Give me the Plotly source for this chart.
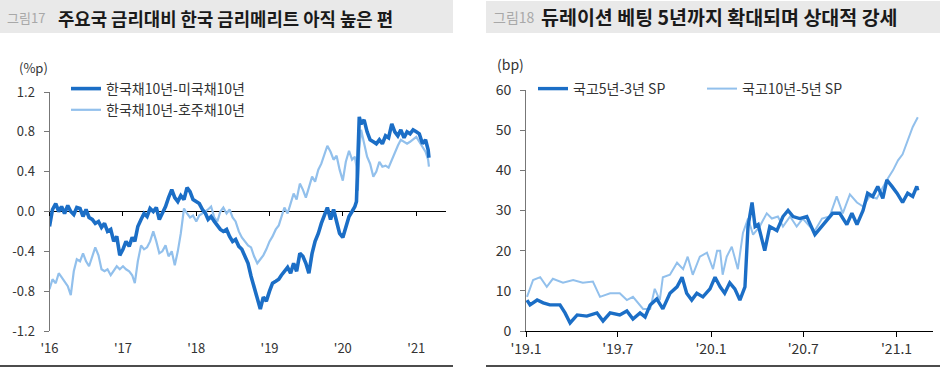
import plotly.graph_objects as go

W, H = 942, 372
FONT = "Noto Sans CJK KR"

# ---------------- Left chart data (%p) ----------------
LEFT_DATES = [
    "2016-01-01","2016-01-16","2016-02-01","2016-02-16","2016-03-01","2016-03-16","2016-04-01","2016-04-16",
    "2016-05-01","2016-05-16","2016-06-01","2016-06-16","2016-07-01","2016-07-16","2016-08-01","2016-08-16",
    "2016-09-01","2016-09-16","2016-10-01","2016-10-16","2016-11-01","2016-11-16","2016-12-01","2016-12-16",
    "2017-01-01","2017-01-16","2017-02-01","2017-02-16","2017-03-01","2017-03-16","2017-04-01","2017-04-16",
    "2017-05-01","2017-05-16","2017-06-01","2017-06-16","2017-07-01","2017-07-16","2017-08-01","2017-08-16",
    "2017-09-01","2017-09-16","2017-10-01","2017-10-16","2017-11-01","2017-11-16","2017-12-01","2017-12-16",
    "2018-01-01","2018-01-16","2018-02-01","2018-02-16","2018-03-01","2018-03-16","2018-04-01","2018-04-16",
    "2018-05-01","2018-05-16","2018-06-01","2018-06-16","2018-07-01","2018-07-16","2018-08-01","2018-08-16",
    "2018-09-01","2018-09-16","2018-10-01","2018-10-16","2018-11-01","2018-11-16","2018-12-01","2018-12-16",
    "2019-01-01","2019-01-16","2019-02-01","2019-02-16","2019-03-01","2019-03-16","2019-04-01","2019-04-16",
    "2019-05-01","2019-05-16","2019-06-01","2019-06-16","2019-07-01","2019-07-16","2019-08-01","2019-08-16",
    "2019-09-01","2019-09-16","2019-10-01","2019-10-16","2019-11-01","2019-11-16","2019-12-01","2019-12-16",
    "2020-01-01","2020-01-16","2020-02-01","2020-02-16","2020-03-01","2020-03-09","2020-03-16","2020-03-23",
    "2020-04-01","2020-04-16","2020-05-01","2020-05-16","2020-06-01","2020-06-16","2020-07-01","2020-07-16",
    "2020-08-01","2020-08-16","2020-09-01","2020-09-16","2020-10-01","2020-10-16","2020-11-01","2020-11-16",
    "2020-12-01","2020-12-16","2021-01-01","2021-01-16","2021-02-01","2021-02-16","2021-03-01","2021-03-05",
]
KR_US = [
    -0.15, 0.02, 0.08, 0.00, 0.05, -0.02, 0.06, 0.00, -0.03, 0.04, 0.03, -0.05,
    0.02, -0.06, -0.08, -0.12, -0.10, -0.16, -0.12, -0.20, -0.18, -0.30, -0.25, -0.44,
    -0.38, -0.30, -0.35, -0.26, -0.30, -0.15, -0.08, -0.02, -0.05, 0.03, 0.00, 0.04,
    -0.08, -0.02, 0.05, 0.14, 0.22, 0.14, 0.10, 0.16, 0.12, 0.24, 0.20, 0.12,
    0.10, 0.08, 0.02, -0.02, -0.08, -0.05, -0.10, -0.14, -0.18, -0.20, -0.18, -0.25,
    -0.30, -0.28, -0.35, -0.38, -0.45, -0.52, -0.65, -0.75, -0.88, -0.98, -0.86, -0.90,
    -0.80, -0.72, -0.70, -0.68, -0.64, -0.60, -0.56, -0.62, -0.52, -0.60, -0.42, -0.45,
    -0.52, -0.62, -0.42, -0.30, -0.22, -0.12, -0.05, 0.04, -0.08, 0.02, -0.10, -0.22,
    -0.26, -0.15, -0.05, 0.00, 0.05, 0.10, 0.55, 0.95,
    0.88, 0.92, 0.80, 0.72, 0.70, 0.68, 0.72, 0.68, 0.76, 0.74, 0.88, 0.80,
    0.76, 0.82, 0.74, 0.80, 0.78, 0.82, 0.80, 0.78, 0.68, 0.72, 0.62, 0.54,
]
KR_AU = [
    -0.78, -0.68, -0.72, -0.62, -0.66, -0.70, -0.75, -0.84, -0.60, -0.48, -0.50, -0.42,
    -0.50, -0.55, -0.45, -0.36, -0.44, -0.58, -0.60, -0.58, -0.64, -0.60, -0.55, -0.58,
    -0.55, -0.58, -0.60, -0.64, -0.72, -0.50, -0.34, -0.38, -0.36, -0.30, -0.20, -0.30,
    -0.42, -0.40, -0.34, -0.45, -0.40, -0.54, -0.40, -0.22, 0.03, -0.02, -0.06, -0.04,
    -0.10, -0.04, -0.02, 0.00, 0.02, 0.05, -0.06, -0.10, 0.00, 0.04, -0.02, 0.02,
    -0.06, -0.10, -0.20, -0.26, -0.30, -0.34, -0.36, -0.45, -0.52, -0.48, -0.44, -0.38,
    -0.30, -0.25, -0.18, -0.14, -0.05, 0.04, -0.02, 0.08, 0.18, 0.12, 0.28, 0.22,
    0.14, 0.24, 0.35, 0.30, 0.42, 0.48, 0.58, 0.66, 0.60, 0.52, 0.56, 0.42,
    0.31, 0.50, 0.61, 0.52, 0.55, 0.45, 0.21, 0.62,
    0.82, 0.70, 0.55, 0.48, 0.35, 0.40, 0.50, 0.45, 0.46, 0.44, 0.52, 0.60,
    0.66, 0.72, 0.70, 0.68, 0.70, 0.72, 0.75, 0.70, 0.65, 0.60, 0.52, 0.45,
]
LEFT_XTICKS = ["2016-01-01", "2017-01-01", "2018-01-01", "2019-01-01", "2020-01-01", "2021-01-01"]
LEFT_XTEXT = ["'16", "'17", "'18", "'19", "'20", "'21"]
LEFT_YTICKS = [-1.2, -0.8, -0.4, 0.0, 0.4, 0.8, 1.2]
LEFT_YTEXT = ["-1.2", "-0.8", "-0.4", "0.0", "0.4", "0.8", "1.2"]

# ---------------- Right chart data (bp) ----------------
SP53_DATES = [
    "2019-01-03","2019-01-09","2019-01-23","2019-02-04","2019-02-17","2019-03-09","2019-03-19","2019-03-29",
    "2019-04-12","2019-05-01","2019-05-21","2019-06-02","2019-06-16","2019-07-05","2019-07-19","2019-07-31",
    "2019-08-14","2019-08-24","2019-09-03","2019-09-16","2019-09-28","2019-10-12","2019-10-26","2019-11-05",
    "2019-11-14","2019-11-24","2019-12-04","2019-12-16","2019-12-30","2020-01-09","2020-01-19","2020-01-28",
    "2020-02-07","2020-02-17","2020-02-27","2020-03-08","2020-03-14","2020-03-22","2020-03-28","2020-04-03",
    "2020-04-16","2020-04-26","2020-05-10","2020-05-22","2020-06-01","2020-06-11","2020-06-24","2020-07-08",
    "2020-07-24","2020-08-09","2020-08-28","2020-09-11","2020-09-25","2020-10-05","2020-10-15","2020-10-27",
    "2020-11-05","2020-11-15","2020-11-25","2020-12-05","2020-12-13","2020-12-23","2021-01-02","2021-01-13",
    "2021-01-23","2021-02-02","2021-02-10","2021-02-12",
]
SP53 = [
    7.7, 6.5, 7.7, 7.0, 6.5, 6.5, 4.5, 2.0,
    4.0, 3.7, 4.5, 2.5, 4.5, 4.0, 5.0, 3.0,
    4.5, 3.5, 6.5, 8.0, 5.5, 9.4, 11.0, 13.4,
    9.4, 7.7, 9.4, 8.5, 10.5, 13.4, 11.0, 9.4,
    12.0, 10.5, 7.7, 11.0, 26.0, 32.0, 26.0, 26.5,
    20.0, 26.0, 25.0, 28.5, 30.0, 28.5, 28.0, 28.5,
    24.0, 26.5, 29.3, 29.3, 26.5, 29.3, 26.5, 30.0,
    34.3, 33.5, 36.0, 33.0, 37.6, 36.0, 34.3, 32.0,
    34.3, 33.5, 36.0, 35.0,
]
SP105_DATES = [
    "2019-01-03","2019-01-15","2019-01-29","2019-02-11","2019-02-23","2019-03-15","2019-04-04","2019-04-23",
    "2019-05-13","2019-05-27","2019-06-16","2019-07-05","2019-07-19","2019-07-31","2019-08-20","2019-09-03",
    "2019-09-12","2019-09-22","2019-09-28","2019-10-12","2019-10-26","2019-11-07","2019-11-16","2019-11-26",
    "2019-12-10","2019-12-24","2020-01-05","2020-01-13","2020-01-19","2020-01-24","2020-02-01","2020-02-11",
    "2020-02-23","2020-03-04","2020-03-14","2020-03-24","2020-04-06","2020-04-20","2020-04-30","2020-05-12",
    "2020-05-22","2020-06-05","2020-06-18","2020-06-30","2020-07-14","2020-07-24","2020-08-07","2020-08-22",
    "2020-09-05","2020-09-17","2020-10-01","2020-10-15","2020-10-27","2020-11-09","2020-11-23","2020-12-03",
    "2020-12-13","2020-12-25","2021-01-04","2021-01-13","2021-01-23","2021-02-02","2021-02-12",
]
SP105 = [
    8.5, 12.7, 13.4, 11.0, 13.0, 12.0, 12.7, 12.0,
    12.3, 8.5, 9.4, 9.4, 7.7, 8.5, 5.5, 5.5,
    10.5, 7.7, 13.4, 14.0, 17.0, 15.4, 18.5, 14.0,
    18.5, 19.5, 15.4, 20.0, 20.0, 14.0, 18.5, 21.0,
    15.4, 24.4, 28.0, 24.0, 26.0, 29.3, 28.0, 28.5,
    26.0, 28.5, 26.0, 28.0, 26.0, 25.0, 28.0, 28.5,
    33.5, 29.3, 34.0, 32.0, 31.0, 33.5, 33.0, 35.5,
    37.6, 40.0, 42.5, 44.0, 47.5, 50.8, 53.2,
]
RIGHT_XTICKS = ["2019-01-01", "2019-07-01", "2020-01-01", "2020-07-01", "2021-01-01"]
RIGHT_XTEXT = ["'19.1", "'19.7", "'20.1", "'20.7", "'21.1"]

DARK = "#1b6ec6"
LIGHT = "#92c0ec"


def px(x):
    return x / W


def py(y):
    return 1 - y / H


fig = go.Figure()
fig.add_trace(go.Scatter(x=LEFT_DATES, y=KR_AU, mode="lines", name="한국채10년-호주채10년",
                         line=dict(color=LIGHT, width=2.2), xaxis="x", yaxis="y", legend="legend",
                         legendrank=2))
fig.add_trace(go.Scatter(x=LEFT_DATES, y=KR_US, mode="lines", name="한국채10년-미국채10년",
                         line=dict(color=DARK, width=3.6), xaxis="x", yaxis="y", legend="legend",
                         legendrank=1))
fig.add_trace(go.Scatter(x=SP105_DATES, y=SP105, mode="lines", name="국고10년-5년 SP",
                         line=dict(color=LIGHT, width=2), xaxis="x2", yaxis="y2", legend="legend2",
                         legendrank=2))
fig.add_trace(go.Scatter(x=SP53_DATES, y=SP53, mode="lines", name="국고5년-3년 SP",
                         line=dict(color=DARK, width=3.4), xaxis="x2", yaxis="y2", legend="legend2",
                         legendrank=1))
# invisible trace so the zero-line tick axis is drawn
fig.add_trace(go.Scatter(x=LEFT_XTICKS[:1], y=[0], mode="lines", showlegend=False,
                         hoverinfo="skip", line=dict(width=0), xaxis="x3", yaxis="y"))

tickfont_l = dict(family=FONT, size=13, color="#333")
tickfont_r = dict(family=FONT, size=14, color="#333")
LEFT_RANGE = ["2016-01-01", "2021-05-29"]

fig.update_layout(
    width=W, height=H,
    margin=dict(l=0, r=0, t=0, b=0, autoexpand=False),
    paper_bgcolor="white", plot_bgcolor="rgba(0,0,0,0)",
    font=dict(family=FONT, color="#333"),
    xaxis=dict(domain=[px(49.5), px(446)], anchor="y", type="date", range=LEFT_RANGE,
               tickvals=LEFT_XTICKS, ticktext=LEFT_XTEXT, showline=False, ticks="",
               showgrid=False, zeroline=False, tickfont=tickfont_l, ticklabelstandoff=8),
    xaxis3=dict(overlaying="x", anchor="free", position=py(211), type="date", range=LEFT_RANGE,
                tickvals=LEFT_XTICKS, showticklabels=False, ticks="outside", ticklen=4,
                tickcolor="#000", tickwidth=1, showline=False, showgrid=False, zeroline=False),
    yaxis=dict(domain=[py(331), py(92)], anchor="x", range=[-1.2, 1.2], tickvals=LEFT_YTICKS,
               ticktext=LEFT_YTEXT, showline=True, linecolor="#777", linewidth=1, ticks="outside",
               ticklen=5, tickcolor="#777", showgrid=False, zeroline=True, zerolinecolor="#000",
               zerolinewidth=1.3, tickfont=tickfont_l, ticklabelstandoff=6),
    xaxis2=dict(domain=[px(526), px(933)], anchor="y2", type="date",
                range=["2019-01-01", "2021-03-14"], tickvals=RIGHT_XTICKS, ticktext=RIGHT_XTEXT,
                showline=True, linecolor="#000", linewidth=1, ticks="outside", ticklen=5,
                tickcolor="#000", showgrid=False, zeroline=False, tickfont=tickfont_r),
    yaxis2=dict(domain=[py(331), py(90)], anchor="x2", range=[0, 60], dtick=10,
                showline=True, linecolor="#777", linewidth=1, ticks="outside", ticklen=5,
                tickcolor="#777", showgrid=False, zeroline=False, tickfont=tickfont_r,
                ticklabelstandoff=6),
    legend=dict(x=px(66), y=py(73), xanchor="left", yanchor="top", orientation="v",
                bgcolor="rgba(0,0,0,0)", font=dict(family=FONT, size=14, color="#333"),
                tracegroupgap=0, traceorder="normal"),
    legend2=dict(x=px(533), y=py(73), xanchor="left", yanchor="top", orientation="h",
                 bgcolor="rgba(0,0,0,0)", font=dict(family=FONT, size=14, color="#333"),
                 entrywidth=124, entrywidthmode="pixels", traceorder="normal"),
    showlegend=True,
)

shapes = [
    dict(type="rect", xref="paper", yref="paper", x0=0, x1=px(453), y0=py(33), y1=py(0),
         fillcolor="#e9e9e9", line=dict(width=0), layer="below"),
    dict(type="rect", xref="paper", yref="paper", x0=px(486), x1=px(940), y0=py(33), y1=py(1),
         fillcolor="#e9e9e9", line=dict(width=0), layer="below"),
    dict(type="line", xref="paper", yref="paper", x0=0, x1=px(453), y0=py(366), y1=py(366),
         line=dict(color="#111", width=1.5)),
    dict(type="line", xref="paper", yref="paper", x0=px(486), x1=px(940), y0=py(366), y1=py(366),
         line=dict(color="#111", width=1.5)),
]
fig.update_layout(shapes=shapes)

annotations = [
    dict(text="그림17", x=px(5), y=py(18), xanchor="left", yanchor="middle",
         font=dict(family=FONT, size=13, color="#a8a8a8")),
    dict(text="<b>주요국 금리대비 한국 금리메리트 아직 높은 편</b>", x=px(56), y=py(18),
         xanchor="left", yanchor="middle", font=dict(family=FONT, size=17.8, color="#1a1a1a")),
    dict(text="그림18", x=px(491), y=py(17), xanchor="left", yanchor="middle",
         font=dict(family=FONT, size=14, color="#a8a8a8")),
    dict(text="<b>듀레이션 베팅 5년까지 확대되며 상대적 강세</b>", x=px(539), y=py(17),
         xanchor="left", yanchor="middle", font=dict(family=FONT, size=19.5, color="#1a1a1a")),
    dict(text="(%p)", x=px(33), y=py(67), xanchor="center", yanchor="middle",
         font=dict(family=FONT, size=13, color="#333")),
    dict(text="(bp)", x=px(510), y=py(64), xanchor="center", yanchor="middle",
         font=dict(family=FONT, size=14, color="#333")),
]
for a in annotations:
    a.update(xref="paper", yref="paper", showarrow=False)
fig.update_layout(annotations=annotations)

fig.write_html(
    "out.html",
    config={"displayModeBar": False},
    post_script="document.body.style.margin='0';document.body.style.overflow='hidden';",
)
